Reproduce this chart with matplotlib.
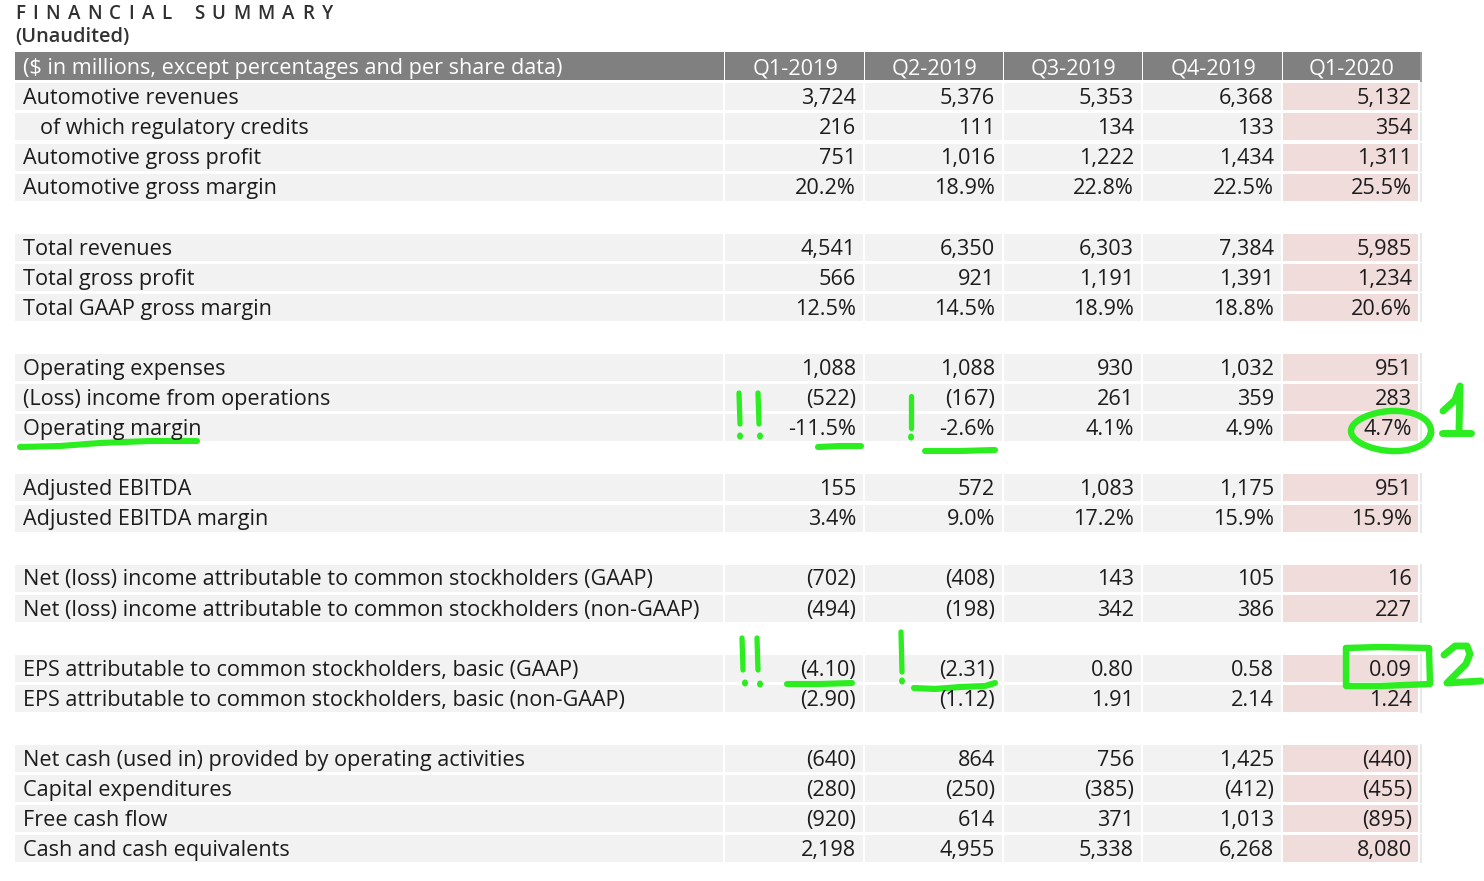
import matplotlib
matplotlib.use("Agg")
import matplotlib.pyplot as plt
from matplotlib.patches import Rectangle, Ellipse
import numpy as np

# ---------------- data ----------------
title = "FINANCIAL SUMMARY"
subtitle = "(Unaudited)"
header_label = "($ in millions, except percentages and per share data)"
quarters = ["Q1-2019", "Q2-2019", "Q3-2019", "Q4-2019", "Q1-2020"]

row_labels = [
    "Automotive revenues", "  of which regulatory credits", "Automotive gross profit",
    "Automotive gross margin", None,
    "Total revenues", "Total gross profit", "Total GAAP gross margin", None,
    "Operating expenses", "(Loss) income from operations", "Operating margin", None,
    "Adjusted EBITDA", "Adjusted EBITDA margin", None,
    "Net (loss) income attributable to common stockholders (GAAP)",
    "Net (loss) income attributable to common stockholders (non-GAAP)", None,
    "EPS attributable to common stockholders, basic (GAAP)",
    "EPS attributable to common stockholders, basic (non-GAAP)", None,
    "Net cash (used in) provided by operating activities", "Capital expenditures",
    "Free cash flow", "Cash and cash equivalents",
]
# format kind: m = millions, p = percent, e = per share
row_kind = ["m", "m", "m", "p", None, "m", "m", "p", None, "m", "m", "p", None,
            "m", "p", None, "m", "m", None, "e", "e", None, "m", "m", "m", "m"]

q1_2019 = [3724, 216, 751, 20.2, None, 4541, 566, 12.5, None, 1088, -522, -11.5, None,
           155, 3.4, None, -702, -494, None, -4.10, -2.90, None, -640, -280, -920, 2198]
q2_2019 = [5376, 111, 1016, 18.9, None, 6350, 921, 14.5, None, 1088, -167, -2.6, None,
           572, 9.0, None, -408, -198, None, -2.31, -1.12, None, 864, -250, 614, 4955]
q3_2019 = [5353, 134, 1222, 22.8, None, 6303, 1191, 18.9, None, 930, 261, 4.1, None,
           1083, 17.2, None, 143, 342, None, 0.80, 1.91, None, 756, -385, 371, 5338]
q4_2019 = [6368, 133, 1434, 22.5, None, 7384, 1391, 18.8, None, 1032, 359, 4.9, None,
           1175, 15.9, None, 105, 386, None, 0.58, 2.14, None, 1425, -412, 1013, 6268]
q1_2020 = [5132, 354, 1311, 25.5, None, 5985, 1234, 20.6, None, 951, 283, 4.7, None,
           951, 15.9, None, 16, 227, None, 0.09, 1.24, None, -440, -455, -895, 8080]
series = [q1_2019, q2_2019, q3_2019, q4_2019, q1_2020]


def fmt(v, kind):
    if kind == "p":
        return f"{v:.1f}%"
    if kind == "e":
        return f"({abs(v):.2f})" if v < 0 else f"{v:.2f}"
    return f"({abs(v):,.0f})" if v < 0 else f"{v:,.0f}"


# ---------------- layout ----------------
W, H = 1484, 881
fig = plt.figure(figsize=(W / 100, H / 100), dpi=100)
ax = fig.add_axes([0, 0, 1, 1])
ax.set_xlim(0, W)
ax.set_ylim(H, 0)
ax.axis("off")

FONT = "Open Sans"
FS = 15.6
TXT = "#1c1c1c"
col_edges = [15, 725, 865, 1004, 1143, 1283, 1421]
header_y = 66.3
pitch = 30.08
half = 14.0
gap = 1.0
base_off = 7.8

# title with wide letter spacing
renderer = fig.canvas.get_renderer()
x = 15.0
for ch in title:
    if ch == " ":
        x += 15
        continue
    t = ax.text(x, 19, ch, fontsize=13.5, family=FONT, color="#303030", va="baseline",
                ha="left", fontweight="semibold")
    bb = t.get_window_extent(renderer=renderer)
    x += bb.width + 7.4
ax.text(15, 42, subtitle, fontsize=14.4, family=FONT, color="#333333", va="baseline",
        ha="left", fontweight="semibold")

# header
for i in range(len(col_edges) - 1):
    x0, x1 = col_edges[i], col_edges[i + 1]
    ax.add_patch(Rectangle((x0, header_y - half), x1 - x0 - 1.5, 2 * half,
                           facecolor="#808080", edgecolor="none"))
ax.add_patch(Rectangle((col_edges[-1] - 1.5, header_y - half), 2.5, 2 * half + 2,
                       facecolor="#9a9a9a", edgecolor="none"))
ax.text(23, header_y + base_off, header_label, fontsize=FS, family=FONT, color="white",
        va="baseline", ha="left")
for i, q in enumerate(quarters):
    xc = (col_edges[i + 1] + col_edges[i + 2]) / 2
    ax.text(xc, header_y + base_off, q, fontsize=FS, family=FONT, color="white",
            va="baseline", ha="center")

# rows
for r, label in enumerate(row_labels):
    if label is None:
        continue
    yc = header_y + pitch * (r + 1)
    for i in range(len(col_edges) - 1):
        x0, x1 = col_edges[i], col_edges[i + 1]
        fc = "#f1dcdc" if i == len(col_edges) - 2 else "#f2f2f2"
        w = x1 - x0 - 2 if i < len(col_edges) - 2 else x1 - x0 - 3
        ax.add_patch(Rectangle((x0, yc - half + gap), w, 2 * half - gap,
                               facecolor=fc, edgecolor="none"))
    ax.add_patch(Rectangle((col_edges[-1] - 1.5, yc - half), 2.5, 2 * half + 1,
                           facecolor="#e8e8e8", edgecolor="none"))
    indent = 40 if label.startswith("  ") else 23
    ax.text(indent, yc + base_off, label.strip(), fontsize=FS, family=FONT, color=TXT,
            va="baseline", ha="left")
    for i, s in enumerate(series):
        ax.text(col_edges[i + 2] - 9, yc + base_off, fmt(s[r], row_kind[r]), fontsize=FS,
                family=FONT, color=TXT, va="baseline", ha="right")

# ---------------- green hand annotations ----------------
G = "#2bed1f"


def stroke(xs, ys, lw=4.4):
    ax.plot(xs, ys, color=G, lw=lw, solid_capstyle="round", solid_joinstyle="round")


def dot(x, y, s=6):
    ax.add_patch(Ellipse((x, y), s, s + 1, facecolor=G, edgecolor="none"))


# underline "Operating margin"
stroke([20, 60, 100, 150, 197], [447, 446, 443, 441, 441])
# !! near -11.5%
stroke([739, 740], [393, 424], lw=3.8)
stroke([758, 759], [393, 424], lw=3.8)
dot(740, 436); dot(760, 436)
stroke([818, 840, 861], [447, 446, 446])
# ! near -2.6%
stroke([911, 911], [396, 428], lw=3.8)
dot(911, 437)
stroke([925, 960, 995], [451, 451, 450])
# ellipse around 4.7% and "1"
t = np.linspace(0.15, 2 * np.pi + 0.3, 80)
ax.plot(1391 + 40 * np.cos(t), 431 + 20 * np.sin(t) * (1 + 0.1 * np.cos(t)), color=G, lw=4.6)
stroke([1443, 1455, 1460, 1459], [411, 400, 386, 432], lw=5)
stroke([1442, 1471], [433, 433], lw=5)

# !! near (4.10)
stroke([742, 743], [638, 670], lw=3.8)
stroke([757, 758], [638, 670], lw=3.8)
dot(745, 683); dot(760, 684)
stroke([787, 820, 852], [684, 684, 683])
# ! near (2.31)
stroke([901, 902], [632, 672], lw=3.8)
dot(902, 681)
stroke([914, 935, 960, 985, 995], [688, 689, 687, 686, 683])
# rectangle around 0.09 and "2"
stroke([1346, 1346, 1380, 1430, 1429, 1380, 1346], [648, 686, 686, 684, 648, 647, 648], lw=4.6)
stroke([1444, 1455, 1467, 1470, 1466, 1447, 1481],
       [655, 646, 646, 654, 664, 683, 681], lw=5)

fig.savefig("out.png", dpi=100, facecolor="white")
